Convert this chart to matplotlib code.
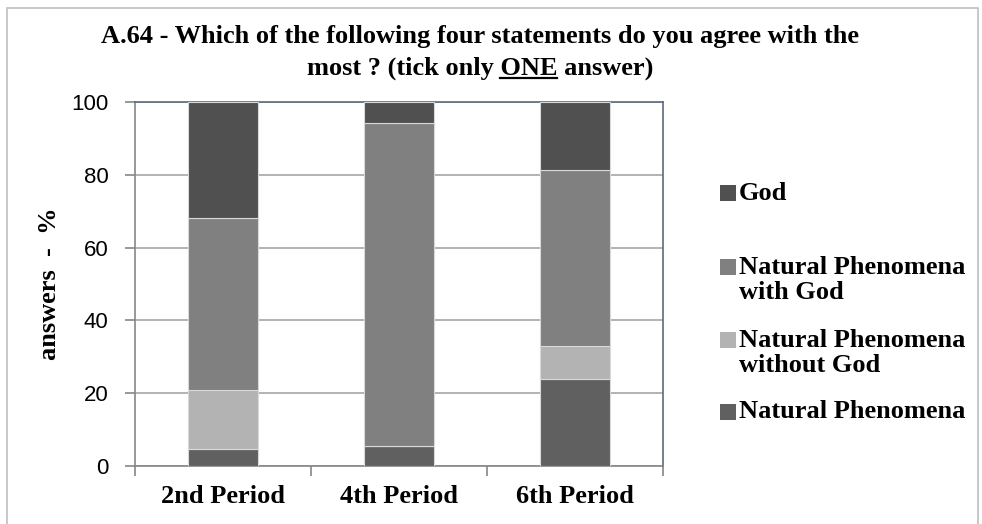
import numpy as np
import matplotlib
matplotlib.use('Agg')
import matplotlib.pyplot as plt
from matplotlib.patches import Rectangle
from matplotlib.lines import Line2D

periods = ['2nd Period', '4th Period', '6th Period']
nat = [4.8, 5.6, 23.8]
nat_without = [16.2, 0.0, 9.3]
nat_with = [47.1, 88.6, 48.2]
god = [31.9, 5.8, 18.7]

series = [
    ('Natural Phenomena', nat, '#606060'),
    ('Natural Phenomena\nwithout God', nat_without, '#b3b3b3'),
    ('Natural Phenomena\nwith God', nat_with, '#808080'),
    ('God', god, '#505050'),
]

W, H = 982, 524
fig = plt.figure(figsize=(W / 100, H / 100), dpi=100)
ax = fig.add_axes([135 / W, (H - 466) / H, 528 / W, 364 / H])

# outer chart frame
fig.patches.append(Rectangle((7 / W, -0.1), 971 / W, 1.1 - 8 / H, transform=fig.transFigure,
                             facecolor='none', edgecolor='#bfbfbf', linewidth=1.2))

x = np.arange(len(periods))
bottom = np.zeros(len(periods))
for name, vals, col in series:
    ax.bar(x, vals, 0.4, bottom=bottom, color=col, edgecolor='#d9d9d9', linewidth=0.8, zorder=3)
    bottom += np.array(vals)

ax.set_xlim(-0.5, 2.5)
ax.set_ylim(0, 100)
ax.set_yticks(range(0, 101, 20))
ax.yaxis.grid(True, color='#a6a6a6', linewidth=1.2, zorder=0)
ax.set_axisbelow(True)

ax.set_xticks(x)
ax.set_xticklabels(periods, fontfamily='Liberation Serif', fontweight='bold', fontsize=19)
ax.set_xticks([-0.5, 0.5, 1.5, 2.5], minor=True)
ax.tick_params(axis='x', which='major', length=0, pad=14)
ax.tick_params(axis='x', which='minor', length=7, color='#868686', width=1.2)
ax.tick_params(axis='y', length=7, color='#868686', width=1.2, pad=12, labelsize=16)
for lab in ax.get_yticklabels():
    lab.set_fontfamily('Liberation Sans')

for s in ['left', 'bottom']:
    ax.spines[s].set_color('#868686')
    ax.spines[s].set_linewidth(1.2)
for s in ['top', 'right']:
    ax.spines[s].set_color('#5d6a80')
    ax.spines[s].set_linewidth(1.2)

ax.set_ylabel('answers  -  %', fontfamily='Liberation Serif', fontweight='bold', fontsize=19)
ax.yaxis.set_label_coords(-0.14, 0.5)

# title, with "ONE" underlined
tkw = dict(fontfamily='Liberation Serif', fontweight='bold', fontsize=19)
cx = 480 / W
fig.text(cx, 1 - 43 / H, 'A.64 - Which of the following four statements do you agree with the',
         ha='center', va='baseline', **tkw)
line2 = 'most ? (tick only ONE answer)'
t2 = fig.text(cx, 1 - 75 / H, line2, ha='center', va='baseline', **tkw)
r = fig.canvas.get_renderer()

def tw(s):
    t = fig.text(0, 0, s, **tkw)
    w = t.get_window_extent(r).width
    t.remove()
    return w

full = tw(line2)
upto = tw('most ? (tick only ONE')
one = tw('ONE')
x0 = cx * W - full / 2
fig.lines.append(Line2D([(x0 + upto - one) / W, (x0 + upto) / W], [1 - 78 / H, 1 - 78 / H],
                        transform=fig.transFigure, color='black', linewidth=1.6))

# legend drawn in Excel layout
lkw = dict(fontfamily='Liberation Serif', fontweight='bold', fontsize=19, va='center', ha='left',
           linespacing=1.12)
leg_y = [193, 280, 353, 412]
for (name, vals, col), yy in zip(series[::-1], leg_y):
    nlines = name.count('\n') + 1
    ytop = yy - (nlines - 1) * 13
    fig.patches.append(Rectangle((720 / W, 1 - (ytop + 8) / H), 16 / W, 16 / H,
                                 transform=fig.transFigure, facecolor=col, edgecolor='none'))
    fig.text(739 / W, 1 - yy / H, name, **lkw)

fig.savefig('out.png', dpi=100)
